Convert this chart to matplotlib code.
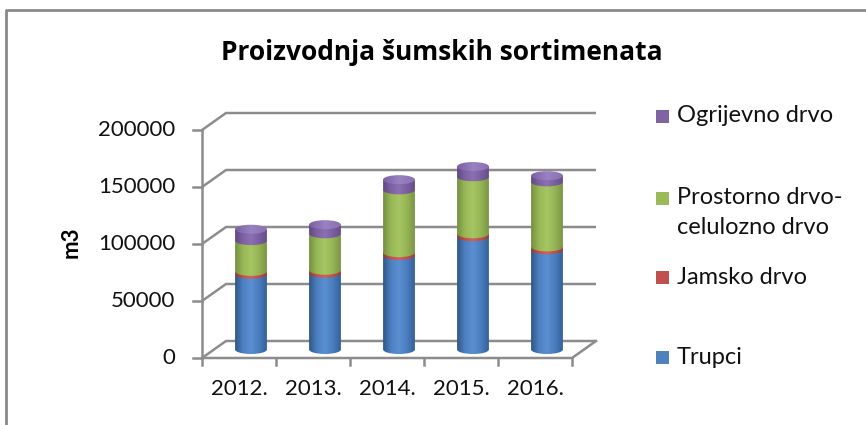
import numpy as np
import matplotlib
matplotlib.use("Agg")
import matplotlib.pyplot as plt
from matplotlib.patches import PathPatch, Ellipse, Rectangle
from matplotlib.path import Path
from matplotlib.transforms import Affine2D
from matplotlib.colors import LinearSegmentedColormap

plt.rcParams['font.family'] = ['Lato', 'DejaVu Sans']

# ---------------- data ----------------
years = ["2012.", "2013.", "2014.", "2015.", "2016."]
series_names = ["Trupci", "Jamsko drvo", "Prostorno drvo-\ncelulozno drvo", "Ogrijevno drvo"]
trupci = [66000, 67000, 82500, 99000, 87500]
jamsko = [2500, 2500, 2500, 2500, 2500]
prostorno = [27000, 32000, 55000, 50000, 57000]
ogrijevno = [10000, 8000, 9000, 9000, 5500]
y_ticks = [0, 50000, 100000, 150000, 200000]
title = "Proizvodnja šumskih sortimenata"
y_label = "m3"

series = [trupci, jamsko, prostorno, ogrijevno]
base_colors = ["#4F81BD", "#C0504D", "#9BBB59", "#8064A2"]
grad_colors = [
    ["#2f5687", "#4d80c0", "#5a8fd2", "#4a7dbd", "#34609a"],
    ["#9a3532", "#c4504c", "#d0615d", "#bf4f4b", "#a03a37"],
    ["#758f3f", "#98b857", "#a6c663", "#95b455", "#7a9543"],
    ["#5f4882", "#7d62a2", "#8c70b2", "#7a5fa0", "#654d8a"],
]

W, H = 866, 425
fig = plt.figure(figsize=(W / 100, H / 100), dpi=100)

# axes geometry (pixels)
px_left, px_right = 202, 600
px_zero, px_per_unit_y = 358, 228 / 200000
ppx = 74.0  # px per category
xlim = (-0.5, -0.5 + (px_right - px_left) / ppx)
ylim = (0, 220000)
ax = fig.add_axes([px_left / W, (H - px_zero) / H,
                   (px_right - px_left) / W, (ylim[1] * px_per_unit_y) / H])
ax.set_xlim(*xlim)
ax.set_ylim(*ylim)
ax.axis('off')

dx = 24 / ppx
dy = 17 / px_per_unit_y
gcol = "#8c8c8c"
lw = 1.8
n = len(years)
x0, x1 = -0.5, n - 0.5
tcol = "#111111"

# walls / gridlines
for v in y_ticks:
    ax.plot([x0, x0 + dx, x1 + dx], [v, v + dy, v + dy], color=gcol, lw=lw,
            clip_on=False, zorder=1, solid_capstyle='butt')
    ax.plot([x0 - 9 / ppx, x0], [v, v], color=gcol, lw=lw, clip_on=False, zorder=1)
ax.plot([x0, x1, x1 + dx], [0, 0, dy], color=gcol, lw=lw, clip_on=False, zorder=1)
ax.plot([x0, x0], [0, y_ticks[-1]], color=gcol, lw=lw, clip_on=False, zorder=1)
for k in range(n + 1):
    ax.plot([x0 + k, x0 + k], [0, -7 / px_per_unit_y], color=gcol, lw=lw,
            clip_on=False, zorder=1)

# tick labels
for v in y_ticks:
    ax.text(x0 - 27 / ppx, v, f"{v}", ha='right', va='center', fontsize=16,
            color=tcol, clip_on=False)
for i, yr in enumerate(years):
    ax.text(i, -31 / px_per_unit_y, yr, ha='center', va='center', fontsize=16,
            color=tcol, clip_on=False)

# cylinders
bw = 0.43
eh = 9 / px_per_unit_y
grad_img = np.linspace(0, 1, 256).reshape(1, -1)


def seg_path(xc, y0, y1):
    arc = Path.arc(180, 360)
    tr = Affine2D().scale(bw / 2, eh / 2).translate(xc, y0)
    av = tr.transform(arc.vertices)
    verts = [(xc - bw / 2, y1)] + list(av) + [(xc + bw / 2, y1), (xc - bw / 2, y1)]
    codes = [Path.MOVETO, Path.LINETO] + list(arc.codes[1:]) + [Path.LINETO, Path.CLOSEPOLY]
    return Path(verts, codes)


for i in range(n):
    xc = i + dx / 2
    bottom = dy / 2
    z = 3
    for s, vals in enumerate(series):
        y0 = bottom
        y1 = bottom + vals[i]
        cmap = LinearSegmentedColormap.from_list(f"c{s}", grad_colors[s])
        patch = PathPatch(seg_path(xc, y0, y1), facecolor='none', edgecolor='none',
                          transform=ax.transData, zorder=z)
        ax.add_patch(patch)
        im = ax.imshow(grad_img, cmap=cmap, extent=(xc - bw / 2, xc + bw / 2, y0 - eh, y1 + eh),
                       aspect='auto', interpolation='bilinear', zorder=z)
        im.set_clip_path(patch)
        z += 1
        bottom = y1
    cap = Ellipse((xc, bottom), bw, eh, facecolor='none', edgecolor='none',
                  transform=ax.transData, zorder=z)
    ax.add_patch(cap)
    cmap = LinearSegmentedColormap.from_list("cap", ["#7a5fa2", "#9a82c2", "#8a70b2"])
    im = ax.imshow(grad_img, cmap=cmap, extent=(xc - bw / 2, xc + bw / 2, bottom - eh, bottom + eh),
                   aspect='auto', interpolation='bilinear', zorder=z)
    im.set_clip_path(cap)

ax.set_xlim(*xlim)
ax.set_ylim(*ylim)

# title and y label
fig.text(442 / W, 1 - 52 / H, title, ha='center', va='center', fontsize=19,
         fontweight='bold', color='black', family=['Open Sans', 'DejaVu Sans'])
fig.text(71 / W, 1 - 242 / H, y_label, ha='center', va='center', fontsize=16,
         fontweight='bold', rotation=90, color='black')

# legend (manual, top to bottom: reversed series)
leg_y = [116, 198, 277, 357]
for k, s in enumerate(reversed(range(len(series)))):
    yc = leg_y[k]
    fig.add_artist(Rectangle((656 / W, 1 - (yc + 7) / H), 13 / W, 13 / H,
                             transform=fig.transFigure, facecolor=base_colors[s],
                             edgecolor='none'))
    for j, line in enumerate(series_names[s].split("\n")):
        fig.text(677 / W, 1 - (yc + 30 * j) / H, line, ha='left', va='center',
                 fontsize=17, color=tcol)

# chart border
fig.add_artist(plt.Line2D([6 / W, 6 / W, 1], [0, 1 - 10 / H, 1 - 10 / H],
                          transform=fig.transFigure, color='#8a8a8a', lw=2))

fig.savefig("out.png", dpi=100)
